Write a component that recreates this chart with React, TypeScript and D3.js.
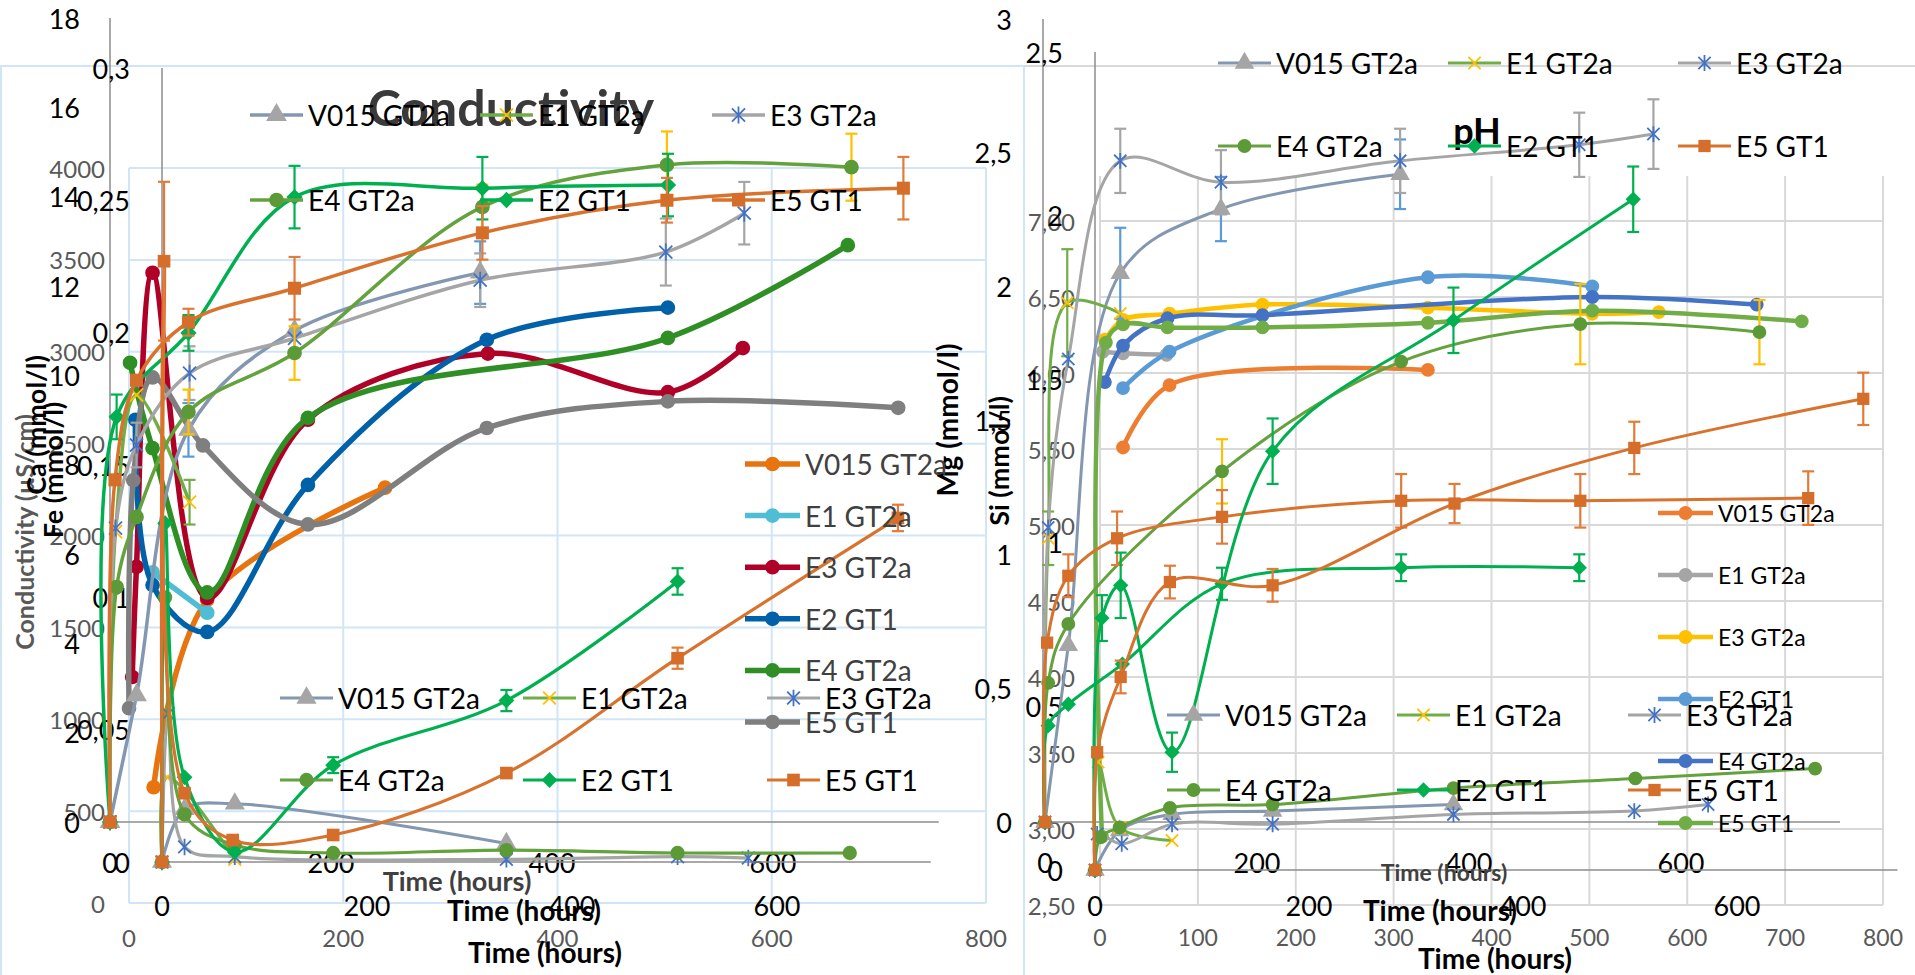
import * as d3 from "d3";

type Pt = [number, number, number?]; // time (h), value, error bar (+/-)
type Shape = "triangle" | "x" | "star" | "circle" | "diamond" | "square";

// ---------- Conductivity (µS/cm), circle series ----------
const condV015: Pt[] = [[23, 630], [73, 1650], [239, 2260]];
const condE1: Pt[] = [[22, 1800], [73, 1580]];
const condE3: Pt[] = [[3, 1230], [7, 1830], [22, 3430], [73, 1660], [167, 2630], [335, 2990], [503, 2780], [573, 3020]];
const condE2: Pt[] = [[6, 2630], [22, 1730], [73, 1475], [167, 2275], [334, 3065], [503, 3240]];
const condE4: Pt[] = [[1, 2940], [22, 2475], [73, 1690], [167, 2640], [503, 3075], [671, 3580]];
const condE5: Pt[] = [[0, 1060], [4, 2300], [22, 2860], [69, 2490], [167, 2060], [334, 2585], [503, 2730], [718, 2695]];

// ---------- Ca (mmol/l) ----------
const caV015: Pt[] = [[0, 0], [24, 2.84], [71, 8.78, 0.6], [167, 11.0], [335, 12.3, 0.7]];
const caE1: Pt[] = [[0, 0], [5, 6.5], [24, 9.56], [72, 7.16, 0.5]];
const caE3: Pt[] = [[0, 0], [5, 6.58], [24, 8.44, 0.5], [72, 10.05, 0.6], [167, 10.83], [335, 12.13, 0.6], [503, 12.76, 0.75], [574, 13.63, 0.7]];
const caE4: Pt[] = [[0, 0], [6, 5.26], [24, 6.83], [71, 9.18, 0.5], [167, 10.5, 0.6], [337, 13.77, 0.5], [504, 14.71, 0.75], [671, 14.66, 0.75]];
const caE2: Pt[] = [[0, 0], [6, 9.07, 0.5], [71, 10.95, 0.4], [167, 13.99, 0.7], [337, 14.19, 0.7], [505, 14.26, 0.7]];
const caE5: Pt[] = [[0, 0], [4.5, 7.66], [24, 9.89], [71, 11.19, 0.3], [167, 11.95, 0.7], [337, 13.19, 0.6], [504, 13.92, 0.5], [718, 14.19, 0.7]];

// ---------- Fe (mmol/l) ----------
const feV015: Pt[] = [[0, 0], [22, 0.02], [71, 0.022], [336, 0.007]];
const feE1: Pt[] = [[0, 0], [5, 0.032], [71, 0.001]];
const feE3: Pt[] = [[0, 0], [6, 0.056], [22, 0.0057], [71, 0.002], [336, 0.001], [503, 0.002], [572, 0.0015]];
const feE4: Pt[] = [[0, 0], [3, 0.1], [22, 0.018], [71, 0.0064], [167, 0.0034], [336, 0.0045], [503, 0.0034], [671, 0.0034]];
const feE2: Pt[] = [[0, 0], [3, 0.128], [22, 0.032], [71, 0.0038], [167, 0.0366, 0.003], [336, 0.061, 0.004], [503, 0.106, 0.005]];
const feE5: Pt[] = [[0, 0], [2, 0.227, 0.03], [22, 0.026], [69, 0.0083], [167, 0.0102], [336, 0.0336], [503, 0.077, 0.004], [718, 0.13, 0.005]];

// ---------- Mg (mmol/l) ----------
const mgV015: Pt[] = [[0, 0], [22, 0.66], [71, 2.05, 0.17], [166, 2.29, 0.12], [335, 2.42, 0.13]];
const mgE1: Pt[] = [[0, 0], [3, 1.06, 0.1], [21, 1.94, 0.2], [71, 1.9]];
const mgE3: Pt[] = [[0, 0], [3, 1.1], [22, 1.73], [71, 2.47, 0.12], [166, 2.39, 0.12], [335, 2.47, 0.12], [504, 2.53, 0.12], [574, 2.57, 0.13]];
const mgE4: Pt[] = [[0, 0], [3, 0.52], [22, 0.74], [167, 1.31, 0.12], [336, 1.72], [505, 1.86, 0.15], [674, 1.83, 0.12]];
const mgE2: Pt[] = [[0, 0], [3, 0.36], [22, 0.44], [73, 0.59], [167, 0.89, 0.06], [336, 0.95, 0.05], [504, 0.95, 0.05]];
const mgE5: Pt[] = [[0, 0], [2, 0.67], [22, 0.92, 0.08], [68, 1.06, 0.1], [167, 1.14, 0.1], [336, 1.2, 0.1], [505, 1.2, 0.1], [720, 1.21, 0.1]];

// ---------- Si (mmol/l) ----------
const siV015: Pt[] = [[0, 0], [23, 0.12], [72, 0.17], [166, 0.18], [335, 0.2]];
const siE1: Pt[] = [[0, 0], [3, 0.33], [23, 0.13], [72, 0.09]];
const siE3: Pt[] = [[0, 0], [2, 0.11], [25, 0.08], [72, 0.14], [166, 0.14], [335, 0.17], [504, 0.18], [573, 0.2]];
const siE4: Pt[] = [[0, 0], [5, 0.1], [23, 0.13], [70, 0.19], [166, 0.2], [335, 0.25], [505, 0.28], [673, 0.31]];
const siE2: Pt[] = [[0, 0], [6.5, 0.77, 0.07], [24, 0.87, 0.1], [72, 0.36, 0.06], [166, 1.28, 0.1], [335, 1.68, 0.1], [503, 2.05, 0.1]];
const siE5: Pt[] = [[0, 0], [2, 0.36], [24, 0.59, 0.05], [70, 0.88, 0.05], [166, 0.87, 0.05], [336, 1.12, 0.06], [504, 1.29, 0.08], [718, 1.44, 0.08]];

// ---------- pH ----------
const phV015: Pt[] = [[23.5, 5.51], [71, 5.92], [335, 6.02]];
const phE1: Pt[] = [[3, 6.14], [23.5, 6.13], [68, 6.12]];
const phE3: Pt[] = [[5, 6.22], [23.5, 6.35], [71, 6.39], [166, 6.45], [335, 6.43], [503, 6.39], [571, 6.4]];
const phE2: Pt[] = [[23.5, 5.9], [71, 6.14], [335, 6.63], [503, 6.57]];
const phE4: Pt[] = [[5, 5.94], [23.5, 6.18], [69, 6.36], [166, 6.38], [503, 6.5], [671, 6.45]];
const phE5: Pt[] = [[2, 2.95], [6, 6.2], [23.5, 6.32], [69, 6.3], [166, 6.3], [335, 6.33], [503, 6.41], [717, 6.34]];

const markerLegendOrder = ["V015 GT2a", "E1 GT2a", "E3 GT2a", "E4 GT2a", "E2 GT1", "E5 GT1"];
const circleLegendOrder = ["V015 GT2a", "E1 GT2a", "E3 GT2a", "E2 GT1", "E4 GT2a", "E5 GT1"];

const FONT = "Lato, 'Open Sans', sans-serif";
const GRAY = "#595959";

type Style = { line: string; marker: string; shape: Shape; err: string };
const markerStyle: Record<string, Style> = {
  "V015 GT2a": { line: "#8497b0", marker: "#a5a5a5", shape: "triangle", err: "#5b9bd5" },
  "E1 GT2a": { line: "#70ad47", marker: "#ffc000", shape: "x", err: "#70ad47" },
  "E3 GT2a": { line: "#a5a5a5", marker: "#4472c4", shape: "star", err: "#a5a5a5" },
  "E4 GT2a": { line: "#64a23d", marker: "#5b9a36", shape: "circle", err: "#ffc000" },
  "E2 GT1": { line: "#00b050", marker: "#00b050", shape: "diamond", err: "#00b050" },
  "E5 GT1": { line: "#d9722d", marker: "#d46e2a", shape: "square", err: "#e07b39" },
};
const condColors: Record<string, string> = {
  "V015 GT2a": "#e8740f", "E1 GT2a": "#4fbdd4", "E3 GT2a": "#b00027",
  "E2 GT1": "#0061a9", "E4 GT2a": "#2f8f25", "E5 GT1": "#7f7f7f",
};
const phColors: Record<string, string> = {
  "V015 GT2a": "#ed7d31", "E1 GT2a": "#a5a5a5", "E3 GT2a": "#ffc000",
  "E2 GT1": "#5b9bd5", "E4 GT2a": "#4472c4", "E5 GT1": "#70ad47",
};

type Series = { name: string; data: Pt[]; line: string; marker: string; shape: Shape; err: string; width: number; size: number };
type Scale = d3.ScaleLinear<number, number>;

function markerSeries(list: [string, Pt[]][], width: number, size: number): Series[] {
  return list.map(([name, data]) => ({ name, data, ...markerStyle[name], width, size }));
}
function circleSeries(list: [string, Pt[]][], colors: Record<string, string>, width: number, size: number): Series[] {
  return list.map(([name, data]) => ({ name, data, line: colors[name], marker: colors[name], shape: "circle" as Shape, err: colors[name], width, size }));
}

function symbolPath(shape: Shape, size: number): string {
  const r = Math.sqrt(size) / 2;
  switch (shape) {
    case "triangle": return d3.symbol(d3.symbolTriangle, size * 1.1)() || "";
    case "square": return d3.symbol(d3.symbolSquare, size)() || "";
    case "circle": return d3.symbol(d3.symbolCircle, size)() || "";
    case "diamond": return `M0,${-r * 1.25}L${r * 1.25},0L0,${r * 1.25}L${-r * 1.25},0Z`;
    case "x": return `M${-r},${-r}L${r},${r}M${-r},${r}L${r},${-r}`;
    case "star": return `M${-r},${-r}L${r},${r}M${-r},${r}L${r},${-r}M0,${-r * 1.3}L0,${r * 1.3}`;
  }
}

function Marker({ s, cx, cy }: { s: Series; cx: number; cy: number }) {
  const stroked = s.shape === "x" || s.shape === "star";
  return (
    <path
      d={symbolPath(s.shape, s.size)}
      transform={`translate(${cx},${cy})`}
      fill={stroked ? "none" : s.marker}
      stroke={stroked ? s.marker : "none"}
      strokeWidth={stroked ? 1.8 : 0}
    />
  );
}

function SeriesG({ s, x, y }: { s: Series; x: Scale; y: Scale }) {
  const line = d3.line<Pt>().x((d) => x(d[0])).y((d) => y(d[1])).curve(d3.curveCatmullRom.alpha(0.5));
  return (
    <g>
      <path d={line(s.data) || ""} fill="none" stroke={s.line} strokeWidth={s.width} strokeLinejoin="round" strokeLinecap="round" />
      {s.data.filter((d) => d[2]).map((d, i) => {
        const cx = x(d[0]);
        const y1 = y(d[1] + (d[2] as number));
        const y2 = y(d[1] - (d[2] as number));
        return (
          <g key={i} stroke={s.err} strokeWidth={2.2}>
            <line x1={cx} x2={cx} y1={y1} y2={y2} />
            <line x1={cx - 6} x2={cx + 6} y1={y1} y2={y1} />
            <line x1={cx - 6} x2={cx + 6} y1={y2} y2={y2} />
          </g>
        );
      })}
      {s.data.map((d, i) => <Marker key={i} s={s} cx={x(d[0])} cy={y(d[1])} />)}
    </g>
  );
}

function LegendItem({ s, lx, ly, len, fs, color }: { s: Series; lx: number; ly: number; len: number; fs: number; color: string }) {
  return (
    <g>
      <line x1={lx} x2={lx + len} y1={ly} y2={ly} stroke={s.line} strokeWidth={s.width} />
      <Marker s={s} cx={lx + len / 2} cy={ly} />
      <text x={lx + len + 5} y={ly} dominantBaseline="central" fontSize={fs} fill={color} fontFamily={FONT}>{s.name}</text>
    </g>
  );
}

function MarkerLegend({ series, cols, rows, fs }: { series: Series[]; cols: number[]; rows: number[]; fs: number }) {
  return (
    <g>
      {markerLegendOrder.map((name, i) => {
        const s = series.find((d) => d.name === name)!;
        return <LegendItem key={name} s={s} lx={cols[i % 3]} ly={rows[Math.floor(i / 3)]} len={53} fs={fs} color="#000" />;
      })}
    </g>
  );
}

function CircleLegend({ series, lx, y0, dy, fs, color }: { series: Series[]; lx: number; y0: number; dy: number; fs: number; color: string }) {
  return (
    <g>
      {circleLegendOrder.map((name, i) => {
        const s = series.find((d) => d.name === name)!;
        return <LegendItem key={name} s={s} lx={lx} ly={y0 + i * dy} len={55} fs={fs} color={color} />;
      })}
    </g>
  );
}

function TickLabels({ values, pos, fixed, axis, fmt, fs, color, anchor }: {
  values: number[]; pos: Scale; fixed: number; axis: "x" | "y"; fmt: (v: number) => string; fs: number; color: string; anchor: string;
}) {
  return (
    <g fontFamily={FONT} fontSize={fs} fill={color}>
      {values.map((v) => (
        <text key={v} x={axis === "x" ? pos(v) : fixed} y={axis === "x" ? fixed : pos(v)} textAnchor={anchor} dominantBaseline="central">
          {fmt(v)}
        </text>
      ))}
    </g>
  );
}

const comma = (v: number) => String(+v.toFixed(2)).replace(".", ",");
const comma2 = (v: number) => v.toFixed(2).replace(".", ",");
const plain = (v: number) => String(v);

function VTitle({ x, y, text, fs, color }: { x: number; y: number; text: string; fs: number; color: string }) {
  return (
    <text transform={`translate(${x},${y}) rotate(-90)`} textAnchor="middle" dominantBaseline="central" fontFamily={FONT} fontWeight="bold" fontSize={fs} fill={color}>
      {text}
    </text>
  );
}
function HTitle({ x, y, text, fs, color }: { x: number; y: number; text: string; fs: number; color: string }) {
  return (
    <text x={x} y={y} textAnchor="middle" dominantBaseline="central" fontFamily={FONT} fontWeight="bold" fontSize={fs} fill={color}>
      {text}
    </text>
  );
}

export default function App() {
  // scales (one per overlaid chart)
  const xCond = d3.scaleLinear().domain([0, 800]).range([129, 986]);
  const yCond = d3.scaleLinear().domain([0, 4000]).range([903, 168]);
  const xCa = d3.scaleLinear().domain([0, 600]).range([110, 773]);
  const yCa = d3.scaleLinear().domain([0, 18]).range([822, 18]);
  const xFe = d3.scaleLinear().domain([0, 600]).range([162, 777]);
  const yFe = d3.scaleLinear().domain([0, 0.3]).range([862, 68]);
  const xMg = d3.scaleLinear().domain([0, 600]).range([1045, 1681]);
  const yMg = d3.scaleLinear().domain([0, 3]).range([822, 19]);
  const xSi = d3.scaleLinear().domain([0, 600]).range([1095, 1737]);
  const ySi = d3.scaleLinear().domain([0, 2.5]).range([870, 52]);
  const xPh = d3.scaleLinear().domain([0, 800]).range([1100, 1883]);
  const yPh = d3.scaleLinear().domain([2.5, 7]).range([905, 221]);

  const cond = circleSeries([["V015 GT2a", condV015], ["E1 GT2a", condE1], ["E3 GT2a", condE3], ["E2 GT1", condE2], ["E4 GT2a", condE4], ["E5 GT1", condE5]], condColors, 5.5, 170);
  const ca = markerSeries([["V015 GT2a", caV015], ["E1 GT2a", caE1], ["E3 GT2a", caE3], ["E4 GT2a", caE4], ["E2 GT1", caE2], ["E5 GT1", caE5]], 3.5, 170);
  const fe = markerSeries([["V015 GT2a", feV015], ["E1 GT2a", feE1], ["E3 GT2a", feE3], ["E4 GT2a", feE4], ["E2 GT1", feE2], ["E5 GT1", feE5]], 3.2, 160);
  const mg = markerSeries([["V015 GT2a", mgV015], ["E1 GT2a", mgE1], ["E3 GT2a", mgE3], ["E4 GT2a", mgE4], ["E2 GT1", mgE2], ["E5 GT1", mgE5]], 3, 150);
  const si = markerSeries([["V015 GT2a", siV015], ["E1 GT2a", siE1], ["E3 GT2a", siE3], ["E4 GT2a", siE4], ["E2 GT1", siE2], ["E5 GT1", siE5]], 3, 150);
  const ph = circleSeries([["V015 GT2a", phV015], ["E1 GT2a", phE1], ["E3 GT2a", phE3], ["E2 GT1", phE2], ["E4 GT2a", phE4], ["E5 GT1", phE5]], phColors, 4.5, 150);

  const blue = "#d0e6f8";
  const axisGray = "#8c8c8c";
  const condTicks = d3.range(0, 4001, 500);
  const phTicks = d3.range(2.5, 7.01, 0.5);

  return (
    <svg width={1915} height={975} style={{ position: "absolute", left: 0, top: 0, background: "#fff" }}>
      {/* ---- conductivity chart frame + grid ---- */}
      <path d="M1,975V66H1024V975" fill="none" stroke={blue} strokeWidth={2} />
      {condTicks.map((v) => (
        <line key={v} x1={xCond(0)} x2={xCond(800)} y1={yCond(v)} y2={yCond(v)} stroke={blue} strokeWidth={2} />
      ))}
      {[0, 200, 400, 600, 800].map((v) => (
        <line key={v} x1={xCond(v)} x2={xCond(v)} y1={yCond(0)} y2={yCond(4000)} stroke={blue} strokeWidth={2} />
      ))}
      <TickLabels values={condTicks} pos={yCond} fixed={105} axis="y" fmt={plain} fs={24} color={GRAY} anchor="end" />
      <TickLabels values={[0, 200, 400, 600, 800]} pos={xCond} fixed={937} axis="x" fmt={plain} fs={24} color={GRAY} anchor="middle" />

      {/* ---- Ca chart axes ---- */}
      <line x1={xCa(0)} x2={xCa(0)} y1={yCa(18)} y2={yCa(0)} stroke={axisGray} strokeWidth={1.5} />
      <line x1={xCa(0)} x2={xCa(750)} y1={yCa(0)} y2={yCa(0)} stroke={axisGray} strokeWidth={1.5} />
      <TickLabels values={d3.range(0, 19, 2)} pos={yCa} fixed={80} axis="y" fmt={plain} fs={27} color="#000" anchor="end" />
      <TickLabels values={[0, 200, 400, 600]} pos={xCa} fixed={862} axis="x" fmt={plain} fs={27} color="#000" anchor="middle" />

      {/* ---- Fe chart axes ---- */}
      <line x1={xFe(0)} x2={xFe(0)} y1={yFe(0.3)} y2={yFe(0)} stroke={axisGray} strokeWidth={1.5} />
      <line x1={xFe(0)} x2={xFe(750)} y1={yFe(0)} y2={yFe(0)} stroke={axisGray} strokeWidth={1.5} />
      <TickLabels values={[0, 0.05, 0.1, 0.15, 0.2, 0.25, 0.3]} pos={yFe} fixed={130} axis="y" fmt={comma} fs={27} color="#000" anchor="end" />
      <TickLabels values={[0, 200, 400, 600]} pos={xFe} fixed={905} axis="x" fmt={plain} fs={27} color="#000" anchor="middle" />

      {/* ---- pH chart grid ---- */}
      <line x1={1024} x2={1915} y1={66} y2={66} stroke="#d9d9d9" strokeWidth={2} />
      {phTicks.map((v) => (
        <line key={v} x1={xPh(0)} x2={xPh(800)} y1={yPh(v)} y2={yPh(v)} stroke="#d9d9d9" strokeWidth={2} />
      ))}
      {d3.range(0, 801, 100).map((v) => (
        <line key={v} x1={xPh(v)} x2={xPh(v)} y1={176} y2={yPh(2.5)} stroke="#d9d9d9" strokeWidth={2} />
      ))}
      <TickLabels values={phTicks} pos={yPh} fixed={1075} axis="y" fmt={comma2} fs={24} color={GRAY} anchor="end" />
      <TickLabels values={d3.range(0, 801, 100)} pos={xPh} fixed={937} axis="x" fmt={plain} fs={23} color={GRAY} anchor="middle" />

      {/* ---- Mg chart axes ---- */}
      <line x1={1043} x2={1043} y1={yMg(3)} y2={yMg(0)} stroke={axisGray} strokeWidth={1.5} />
      <line x1={1043} x2={xMg(750)} y1={yMg(0)} y2={yMg(0)} stroke={axisGray} strokeWidth={1.5} />
      <TickLabels values={[0, 0.5, 1, 1.5, 2, 2.5, 3]} pos={yMg} fixed={1012} axis="y" fmt={comma} fs={27} color="#000" anchor="end" />
      <TickLabels values={[0, 200, 400, 600]} pos={xMg} fixed={862} axis="x" fmt={plain} fs={27} color="#000" anchor="middle" />

      {/* ---- Si chart axes ---- */}
      <line x1={xSi(0)} x2={xSi(0)} y1={ySi(2.5)} y2={ySi(0)} stroke={axisGray} strokeWidth={1.5} />
      <line x1={xSi(0)} x2={xSi(750)} y1={ySi(0)} y2={ySi(0)} stroke={axisGray} strokeWidth={1.5} />
      <TickLabels values={[0, 0.5, 1, 1.5, 2, 2.5]} pos={ySi} fixed={1063} axis="y" fmt={comma} fs={27} color="#000" anchor="end" />
      <TickLabels values={[0, 200, 400, 600]} pos={xSi} fixed={905} axis="x" fmt={plain} fs={27} color="#000" anchor="middle" />

      {/* ---- titles ---- */}
      <HTitle x={511} y={107} text="Conductivity" fs={50} color="#3a3a3a" />
      <VTitle x={24} y={532} text="Conductivity (µS/cm)" fs={25} color={GRAY} />
      <VTitle x={35} y={425} text="Ca (mmol/l)" fs={27} color="#000" />
      <VTitle x={52} y={470} text="Fe (mmol/l)" fs={27} color="#000" />
      <HTitle x={457} y={880} text="Time (hours)" fs={27} color="#404040" />
      <HTitle x={524} y={910} text="Time (hours)" fs={28} color="#000" />
      <HTitle x={545} y={952} text="Time (hours)" fs={28} color="#000" />
      <VTitle x={947} y={420} text="Mg (mmol/l)" fs={28} color="#000" />
      <VTitle x={998} y={461} text="Si (mmol/l)" fs={27} color="#000" />
      <HTitle x={1477} y={130} text="pH" fs={36} color="#000" />
      <HTitle x={1444} y={872} text="Time (hours)" fs={23} color="#404040" />
      <HTitle x={1440} y={910} text="Time (hours)" fs={28} color="#000" />
      <HTitle x={1495} y={958} text="Time (hours)" fs={28} color="#000" />

      {/* ---- series ---- */}
      {cond.map((s) => <SeriesG key={"c" + s.name} s={s} x={xCond} y={yCond} />)}
      {ca.map((s) => <SeriesG key={"a" + s.name} s={s} x={xCa} y={yCa} />)}
      {fe.map((s) => <SeriesG key={"f" + s.name} s={s} x={xFe} y={yFe} />)}
      {ph.map((s) => <SeriesG key={"p" + s.name} s={s} x={xPh} y={yPh} />)}
      {mg.map((s) => <SeriesG key={"m" + s.name} s={s} x={xMg} y={yMg} />)}
      {si.map((s) => <SeriesG key={"s" + s.name} s={s} x={xSi} y={ySi} />)}

      {/* ---- legends ---- */}
      <MarkerLegend series={ca} cols={[250, 480, 712]} rows={[115, 200]} fs={28} />
      <CircleLegend series={cond} lx={745} y0={464} dy={51.6} fs={28} color="#404040" />
      <MarkerLegend series={fe} cols={[280, 523, 767]} rows={[698, 780]} fs={28} />
      <MarkerLegend series={si} cols={[1218, 1448, 1678]} rows={[63, 146]} fs={28} />
      <MarkerLegend series={mg} cols={[1167, 1397, 1628]} rows={[715, 790]} fs={28} />
      <CircleLegend series={ph} lx={1658} y0={513} dy={62} fs={23} color="#000" />
    </svg>
  );
}
